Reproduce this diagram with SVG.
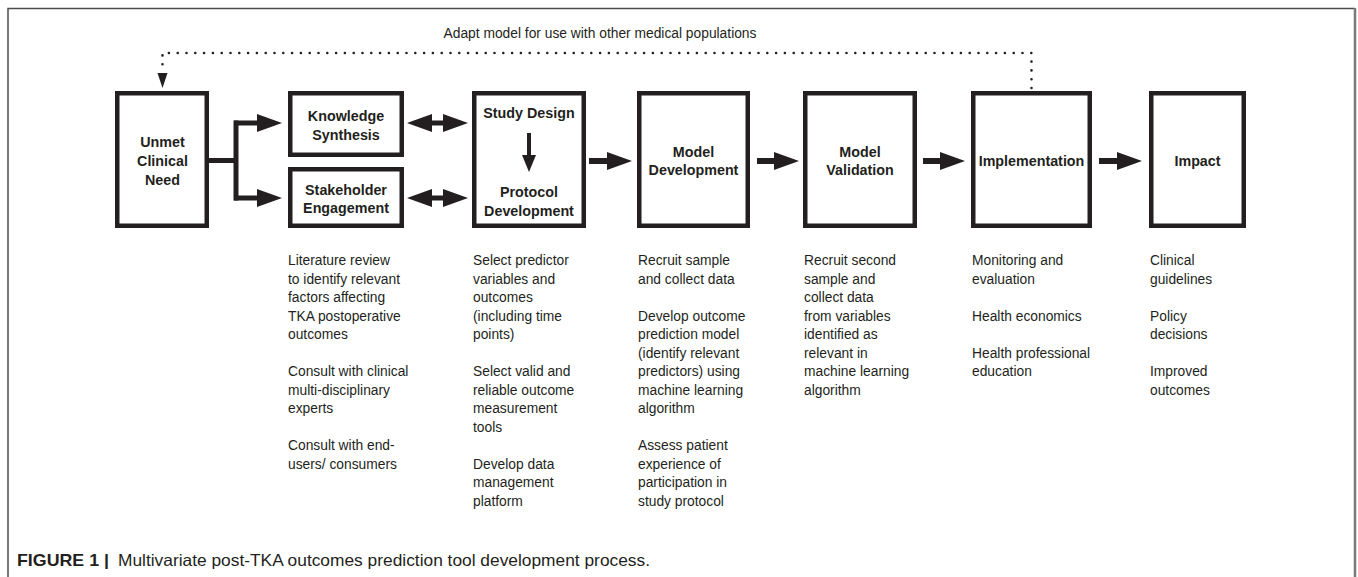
<svg xmlns="http://www.w3.org/2000/svg" width="1358" height="577" viewBox="0 0 1358 577">
  <style>
    .box { fill: #ffffff; stroke: #231f20; stroke-width: 4.5; }
    .label { font-family: "Liberation Sans", Arial, sans-serif; font-weight: bold; font-size: 14.3px; fill: #231f20; text-anchor: middle; }
    .body { font-family: "Liberation Sans", Arial, sans-serif; font-size: 13.8px; fill: #231f20; }
    .arrow { fill: #231f20; stroke: none; }
    .line { fill: none; stroke: #231f20; stroke-width: 5; }
    .dots { fill: none; stroke: #231f20; stroke-width: 2.6; stroke-linecap: round; stroke-dasharray: 0 8.8; }
    .frame { fill: none; stroke: #4d4d4d; stroke-width: 1.5; }
  </style>

  <!-- outer frame -->
  <path class="frame" d="M8 577 V8.5 H1355"/>
  <path d="M1355 8 V577" fill="none" stroke="#7a7a7a" stroke-width="2.5"/>

  <!-- feedback label -->
  <text class="body" x="600" y="38" text-anchor="middle" font-size="15">Adapt model for use with other medical populations</text>

  <g id="unmet-need">
    <rect class="box" x="117.25" y="93.25" width="89.5" height="132.5"/>
    <text class="label" x="162.5" y="147">Unmet</text>
    <text class="label" x="162.5" y="166">Clinical</text>
    <text class="label" x="162.5" y="185">Need</text>
  </g>

  <g id="knowledge-synthesis">
    <rect class="box" x="290.25" y="93.25" width="111.5" height="61.5"/>
    <text class="label" x="346" y="121">Knowledge</text>
    <text class="label" x="346" y="140">Synthesis</text>
    <text class="body">
      <tspan x="288" y="265">Literature review</tspan>
      <tspan x="288" dy="18.5">to identify relevant</tspan>
      <tspan x="288" dy="18.5">factors affecting</tspan>
      <tspan x="288" dy="18.5">TKA postoperative</tspan>
      <tspan x="288" dy="18.5">outcomes</tspan>
      <tspan x="288" dy="37">Consult with clinical</tspan>
      <tspan x="288" dy="18.5">multi-disciplinary</tspan>
      <tspan x="288" dy="18.5">experts</tspan>
      <tspan x="288" dy="37">Consult with end-</tspan>
      <tspan x="288" dy="18.5">users/ consumers</tspan>
    </text>
  </g>

  <g id="stakeholder-engagement">
    <rect class="box" x="290.25" y="169.25" width="111.5" height="56.5"/>
    <text class="label" x="346" y="195">Stakeholder</text>
    <text class="label" x="346" y="213">Engagement</text>
  </g>

  <g id="study-design">
    <rect class="box" x="474.25" y="93.25" width="109.5" height="132.5"/>
    <text class="label" x="529" y="118">Study Design</text>
    <text class="label" x="529" y="197">Protocol</text>
    <text class="label" x="529" y="216">Development</text>
    <text class="body">
      <tspan x="473" y="265">Select predictor</tspan>
      <tspan x="473" dy="18.5">variables and</tspan>
      <tspan x="473" dy="18.5">outcomes</tspan>
      <tspan x="473" dy="18.5">(including time</tspan>
      <tspan x="473" dy="18.5">points)</tspan>
      <tspan x="473" dy="37">Select valid and</tspan>
      <tspan x="473" dy="18.5">reliable outcome</tspan>
      <tspan x="473" dy="18.5">measurement</tspan>
      <tspan x="473" dy="18.5">tools</tspan>
      <tspan x="473" dy="37">Develop data</tspan>
      <tspan x="473" dy="18.5">management</tspan>
      <tspan x="473" dy="18.5">platform</tspan>
    </text>
  </g>

  <g id="model-development">
    <rect class="box" x="639.25" y="93.25" width="108.5" height="132.5"/>
    <text class="label" x="693.5" y="157">Model</text>
    <text class="label" x="693.5" y="175">Development</text>
    <text class="body">
      <tspan x="638" y="265">Recruit sample</tspan>
      <tspan x="638" dy="18.5">and collect data</tspan>
      <tspan x="638" dy="37">Develop outcome</tspan>
      <tspan x="638" dy="18.5">prediction model</tspan>
      <tspan x="638" dy="18.5">(identify relevant</tspan>
      <tspan x="638" dy="18.5">predictors) using</tspan>
      <tspan x="638" dy="18.5">machine learning</tspan>
      <tspan x="638" dy="18.5">algorithm</tspan>
      <tspan x="638" dy="37">Assess patient</tspan>
      <tspan x="638" dy="18.5">experience of</tspan>
      <tspan x="638" dy="18.5">participation in</tspan>
      <tspan x="638" dy="18.5">study protocol</tspan>
    </text>
  </g>

  <g id="model-validation">
    <rect class="box" x="805.25" y="93.25" width="109.5" height="132.5"/>
    <text class="label" x="860" y="157">Model</text>
    <text class="label" x="860" y="175">Validation</text>
    <text class="body">
      <tspan x="804" y="265">Recruit second</tspan>
      <tspan x="804" dy="18.5">sample and</tspan>
      <tspan x="804" dy="18.5">collect data</tspan>
      <tspan x="804" dy="18.5">from variables</tspan>
      <tspan x="804" dy="18.5">identified as</tspan>
      <tspan x="804" dy="18.5">relevant in</tspan>
      <tspan x="804" dy="18.5">machine learning</tspan>
      <tspan x="804" dy="18.5">algorithm</tspan>
    </text>
  </g>

  <g id="implementation">
    <rect class="box" x="973.25" y="93.25" width="116.5" height="132.5"/>
    <text class="label" x="1031.5" y="166">Implementation</text>
    <text class="body">
      <tspan x="972" y="265">Monitoring and</tspan>
      <tspan x="972" dy="18.5">evaluation</tspan>
      <tspan x="972" dy="37">Health economics</tspan>
      <tspan x="972" dy="37">Health professional</tspan>
      <tspan x="972" dy="18.5">education</tspan>
    </text>
  </g>

  <g id="impact">
    <rect class="box" x="1151.25" y="93.25" width="92.5" height="132.5"/>
    <text class="label" x="1197.5" y="166">Impact</text>
    <text class="body">
      <tspan x="1150" y="265">Clinical</tspan>
      <tspan x="1150" dy="18.5">guidelines</tspan>
      <tspan x="1150" dy="37">Policy</tspan>
      <tspan x="1150" dy="18.5">decisions</tspan>
      <tspan x="1150" dy="37">Improved</tspan>
      <tspan x="1150" dy="18.5">outcomes</tspan>
    </text>
  </g>

  <!-- connectors, drawn above the boxes -->
  <g id="connectors">
    <!-- dotted feedback loop -->
    <path class="dots" d="M1031.5 88 V53 H162.5 V71"/>
    <polygon class="arrow" points="157.5,73 167.5,73 162.5,88"/>

    <!-- branch from unmet need -->
    <path class="line" d="M209 160.5 H236"/>
    <path class="line" d="M236 120.5 V200.5"/>
    <path class="arrow" d="M234 120.5 H257 V114 L282 123 L257 132 V125.5 H234 Z"/>
    <path class="arrow" d="M234 195.5 H257 V189 L282 198 L257 207 V200.5 H234 Z"/>

    <!-- two-way links -->
    <path class="arrow" d="M407 123 L432 114 V120.5 H443 V114 L468 123 L443 132 V125.5 H432 V132 Z"/>
    <path class="arrow" d="M407 198 L432 189 V195.5 H443 V189 L468 198 L443 207 V200.5 H432 V207 Z"/>

    <!-- inner arrow study design to protocol -->
    <rect class="arrow" x="527" y="133" width="4" height="24"/>
    <polygon class="arrow" points="522,155 536,155 529,172"/>

    <!-- main flow -->
    <path class="arrow" d="M589 158 H607 V152 L632 161 L607 170 V164 H589 Z"/>
    <path class="arrow" d="M757 158 H774 V152 L799 161 L774 170 V164 H757 Z"/>
    <path class="arrow" d="M923 158 H940 V152 L965 161 L940 170 V164 H923 Z"/>
    <path class="arrow" d="M1099 158 H1117 V152 L1142 161 L1117 170 V164 H1099 Z"/>
  </g>

  <!-- caption -->
  <g id="caption" font-family="'Liberation Sans', Arial, sans-serif" font-size="16.5" fill="#231f20">
    <text x="17" y="566" font-weight="bold" textLength="92" lengthAdjust="spacingAndGlyphs">FIGURE 1 |</text>
    <text x="118" y="566" textLength="532" lengthAdjust="spacingAndGlyphs">Multivariate post-TKA outcomes prediction tool development process.</text>
  </g>
</svg>
